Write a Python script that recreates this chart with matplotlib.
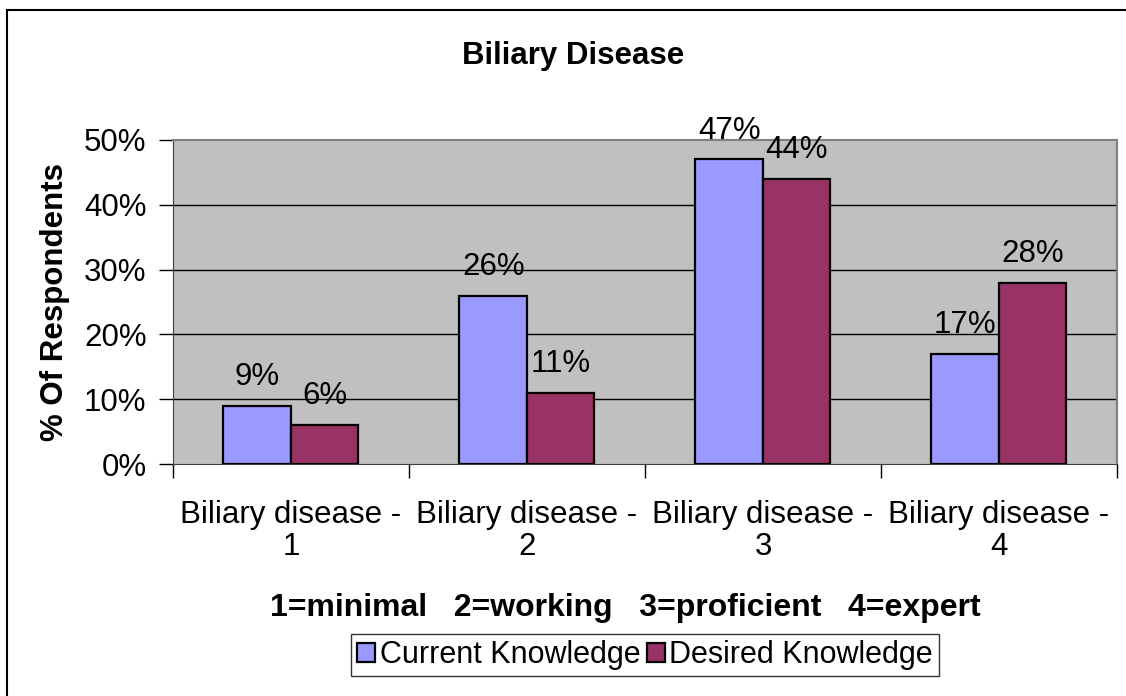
import matplotlib
matplotlib.use("Agg")
import matplotlib.pyplot as plt
import numpy as np
from matplotlib.patches import Rectangle

categories = ["Biliary disease -\n1", "Biliary disease -\n2",
              "Biliary disease -\n3", "Biliary disease -\n4"]
current = [9, 26, 47, 17]
desired = [6, 11, 44, 28]
series_names = ["Current Knowledge", "Desired Knowledge"]

plt.rcParams['font.family'] = ['Liberation Sans', 'DejaVu Sans']
plt.rcParams['font.size'] = 22.5

fig = plt.figure(figsize=(11.26, 6.96), dpi=100)
ax = fig.add_axes([0.1536, 0.3333, 0.8384, 0.4656])

# outer chart border (only top/left visible in the original)
fig.patches.append(Rectangle((7 / 1126, -0.1), 1.2, 1 - 10 / 696 + 0.1,
                             transform=fig.transFigure, fill=False,
                             edgecolor='black', linewidth=1.5))

x = np.arange(len(categories))
w = 0.286
b1 = ax.bar(x - w / 2, current, w, color='#9999FF', edgecolor='black',
            linewidth=1.6, label=series_names[0], zorder=3)
b2 = ax.bar(x + w / 2, desired, w, color='#993366', edgecolor='black',
            linewidth=1.6, label=series_names[1], zorder=3)

for bars, vals in ((b1, current), (b2, desired)):
    for r, v in zip(bars, vals):
        ax.annotate(f"{v}%", (r.get_x() + r.get_width() / 2, v),
                    xytext=(0, 10), textcoords='offset points',
                    ha='center', va='bottom', zorder=4)

ax.set_facecolor('#C0C0C0')
ax.set_xlim(-0.5, 3.5)
ax.set_ylim(0, 50)
ax.set_yticks(np.arange(0, 51, 10))
ax.set_yticklabels([f"{t}%" for t in range(0, 51, 10)])
for t in range(10, 50, 10):
    ax.axhline(t, color='black', linewidth=1.0, zorder=1)

ax.set_xticks(x)
ax.set_xticklabels(categories, linespacing=1.1)
ax.set_xticks(np.arange(-0.5, 4, 1), minor=True)
ax.tick_params(axis='x', which='major', length=0, pad=26)
ax.tick_params(axis='x', which='minor', length=10, width=1, direction='out')
ax.tick_params(axis='y', length=10, width=1, direction='out', pad=9)

for s in ('top', 'right'):
    ax.spines[s].set_color('#808080')
    ax.spines[s].set_linewidth(1.5)
ax.spines['left'].set_color('#404040')
ax.spines['bottom'].set_color('#404040')

fig.text(573 / 1126, 1 - 56 / 696, "Biliary Disease", ha='center',
         va='center', fontweight='bold')
fig.text(55 / 1126, 1 - 302 / 696, "% Of Respondents", ha='center',
         va='center', rotation=90, fontweight='bold')
fig.text(625 / 1126, 1 - 608 / 696,
         "1=minimal   2=working   3=proficient   4=expert",
         ha='center', va='center', fontweight='bold', fontsize=23)

leg = fig.legend(handles=[b1, b2], loc='center', ncol=2,
                 bbox_to_anchor=(645 / 1126, 1 - 655 / 696),
                 frameon=True, fancybox=False, edgecolor='black',
                 fontsize=22, handlelength=0.6, handleheight=0.6,
                 handletextpad=0.15, columnspacing=0.2, borderpad=0.2,
                 borderaxespad=0)
leg.get_frame().set_linewidth(1.0)

fig.savefig('out.png', dpi=100)
